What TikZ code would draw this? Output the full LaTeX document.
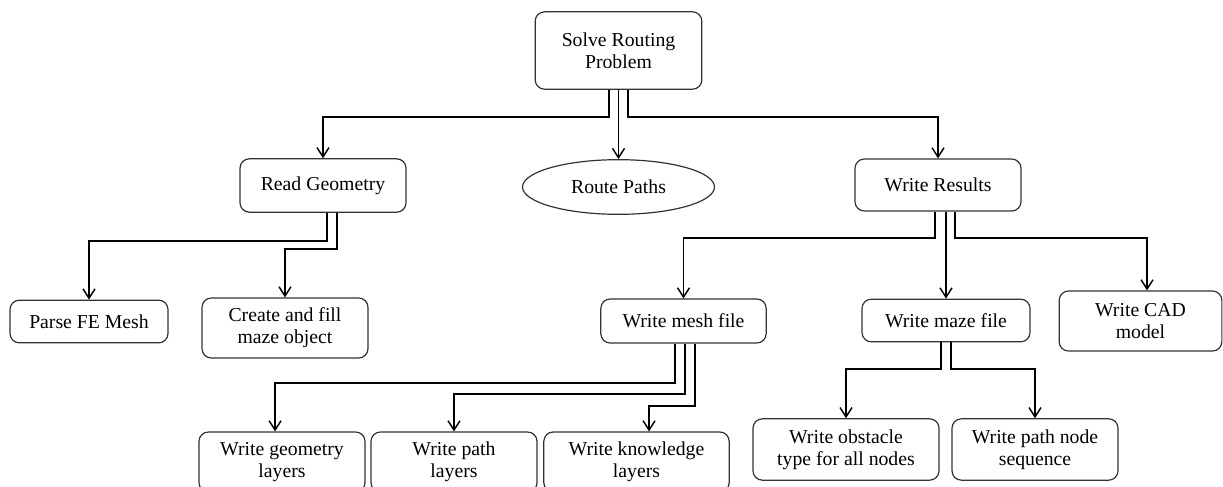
\documentclass[tikz,border=0pt]{standalone}
\usepackage{fontspec}
\setmainfont{Liberation Serif}
\usepackage{tikz}
\usetikzlibrary{positioning,arrows.meta,shapes.geometric}

\begin{document}
\begin{tikzpicture}[
  x=0.75pt,y=-0.75pt,
  box/.style={draw=black!80,rounded corners=7pt,align=center,inner sep=0pt,
              line width=0.9pt,font=\fontsize{14.8}{16.5}\selectfont},
  oval/.style={box,ellipse,rounded corners=0pt},
  flow/.style={-{Straight Barb[length=7pt,width=9pt]},line width=1.1pt}
]
\useasboundingbox (0,0) rectangle (1223,486);
\clip (0,0) rectangle (1223,486);

% top level
\node[box,minimum width=125pt,minimum height=58pt] (solve) at (618.5,50.5) {Solve Routing\\Problem};
\node[box,minimum width=124.5pt,minimum height=40pt] (read) at (323,185.5) {Read Geometry};
\node[oval,minimum width=144pt,minimum height=41pt] (route) at (618.5,187) {Route Paths};
\node[box,minimum width=124.5pt,minimum height=39pt] (results) at (938,185) {Write Results};

% second level
\node[box,minimum width=118.5pt,minimum height=32pt] (parse) at (89,321.5) {Parse FE Mesh};
\node[box,minimum width=124.5pt,minimum height=45pt] (create) at (285,328) {Create and fill\\maze object};
\node[box,minimum width=124pt,minimum height=33pt] (mesh) at (683.5,321) {Write mesh file};
\node[box,minimum width=126pt,minimum height=32pt] (maze) at (946,320.5) {Write maze file};
\node[box,minimum width=122pt,minimum height=45pt] (cad) at (1140.5,321) {Write CAD\\model};

% third level
\node[box,minimum width=124.5pt,minimum height=45pt] (geom) at (282,462) {Write geometry\\layers};
\node[box,minimum width=124.5pt,minimum height=45pt] (pathl) at (454,462) {Write path\\layers};
\node[box,minimum width=139pt,minimum height=45pt] (know) at (636.5,462) {Write knowledge\\layers};
\node[box,minimum width=139.5pt,minimum height=46pt] (obst) at (846,449.5) {Write obstacle\\type for all nodes};
\node[box,minimum width=124.5pt,minimum height=46pt] (pnode) at (1035,449.5) {Write path node\\sequence};

% elbow points
\coordinate (sL) at (609,117);
\coordinate (sR) at (628,117);
\coordinate (rL) at (327,241);
\coordinate (rR) at (337,249);
\coordinate (wL) at (935,238);
\coordinate (wR) at (955,238);
\coordinate (mL) at (675,383);
\coordinate (mM) at (685,394);
\coordinate (mR) at (695,406);
\coordinate (zL) at (941,369);
\coordinate (zR) at (951,369);

\draw[flow] (solve.south -| sL) -- (sL) -| (read.north);
\draw[flow] (solve.south) -- (route.north);
\draw[flow] (solve.south -| sR) -- (sR) -| (results.north);

\draw[flow] (read.south -| rL) -- (rL) -| (parse.north);
\draw[flow] (read.south -| rR) -- (rR) -| (create.north);

\draw[flow] (results.south -| wL) -- (wL) -| (mesh.north);
\draw[flow] (maze.north |- results.south) -- (maze.north);
\draw[flow] (results.south -| wR) -- (wR) -| ([xshift=4.9pt]cad.north);

\draw[flow] (mesh.south -| mL) -- (mL) -| ([xshift=-5.2pt]geom.north);
\draw[flow] (mesh.south -| mM) -- (mM) -| (pathl.north);
\draw[flow] (mesh.south -| mR) -- (mR) -| ([xshift=9.4pt]know.north);

\draw[flow] (maze.south -| zL) -- (zL) -| (obst.north);
\draw[flow] (maze.south -| zR) -- (zR) -| (pnode.north);
\end{tikzpicture}
\end{document}
